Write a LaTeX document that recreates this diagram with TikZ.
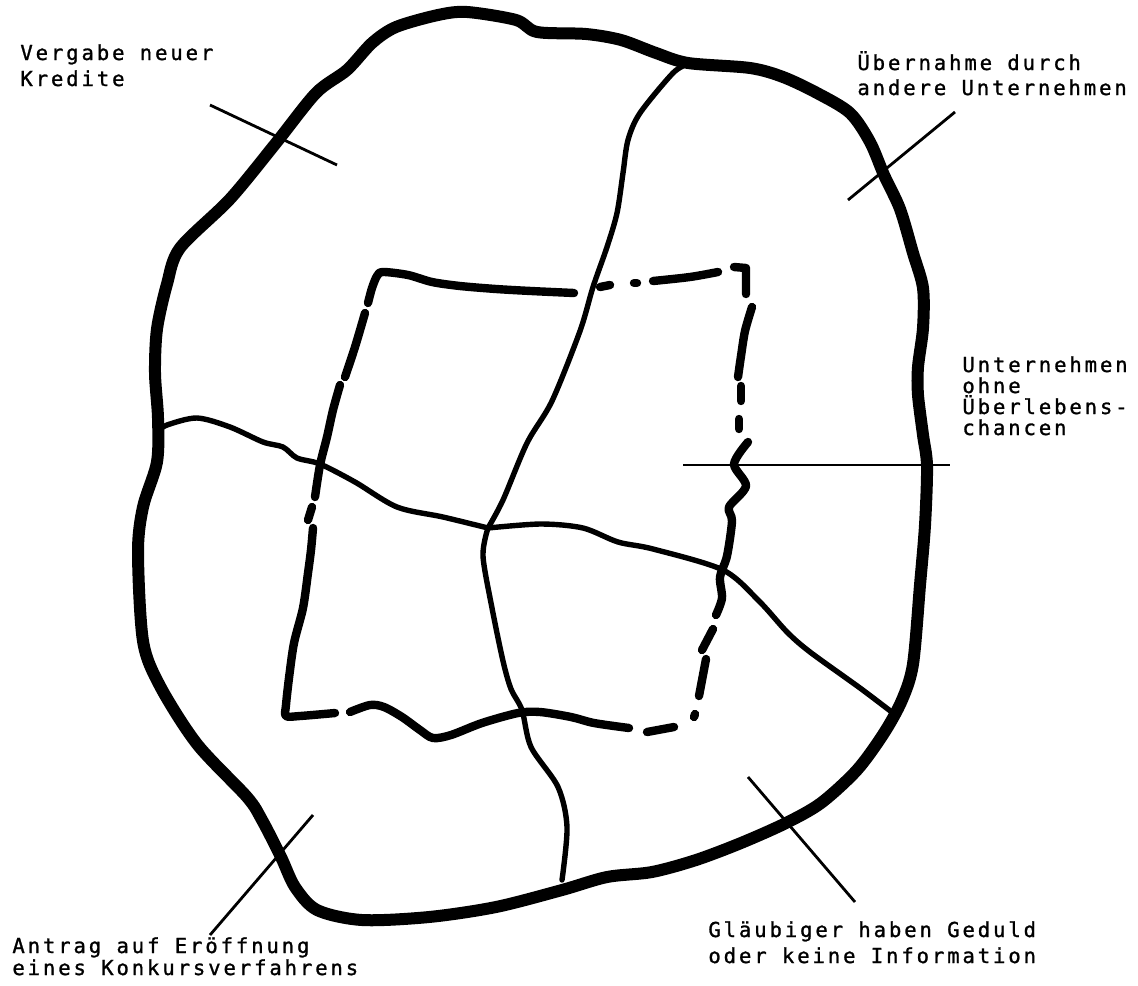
\documentclass[tikz,border=0pt]{standalone}
\usepackage{fontspec}
\newfontfamily\typew{DejaVu Sans Mono}[LetterSpace=14,FakeBold=1.2]
\newcommand\labfont{\typew\fontsize{10.3}{12}\selectfont}
\tikzset{
  outerline/.style={line width=6pt, line cap=round, line join=round},
  innerline/.style={line width=2.7pt, line cap=round, line join=round},
  rectline/.style={line width=4.2pt, line cap=round, line join=round},
  leader/.style={line width=1.4pt},
  lab/.style={anchor=base west, inner sep=0pt, font=\labfont}
}
\begin{document}
\begin{tikzpicture}[x=0.5pt,y=-0.5pt]
\fill[white] (0,0) rectangle (1138,985);
\useasboundingbox (0,0) rectangle (1138,985);

% outer boundary
\draw[outerline] plot[smooth cycle] coordinates {
 (467,12) (516,20) (537,32) (586,34) (621,40) (656,53) (688,63) (750,68)
 (783,77) (817,93) (850,113) (870,142) (884,175) (900,209) (913,253)
 (923,288) (923,328) (918,367) (918,395) (923,435) (927,466) (925,525)
 (920,585) (913,664) (902,700) (884,733) (857,770) (821,803) (786,823)
 (741,843) (696,860) (652,872) (607,877) (562,890) (496,907) (429,917)
 (362,920) (317,910) (295,887) (281,857) (262,820) (247,797) (197,744)
 (160,686) (143,641) (138,552) (143,507) (157,462) (158,418) (155,373)
 (157,329) (167,284) (180,248) (230,199) (276,143) (316,93) (347,70)
 (372,43) (396,27) (438,15)};

% junction
\coordinate (J) at (488,528);

% vertical dividing line
\draw[innerline] plot[smooth] coordinates {
 (688,64) (673,73) (640,113) (628,140) (623,173) (617,213) (607,247)
 (593,287) (580,331) (552,401) (527,443) (503,500) (488,528)};
\draw[innerline] plot[smooth] coordinates {
 (488,528) (483,556) (492,608) (503,661) (511,689) (522,710) (531,747)
 (558,787) (567,827) (562,880)};

% horizontal dividing line
\draw[innerline] plot[smooth] coordinates {
 (158,431) (167,425) (197,418) (230,427) (263,442) (283,447) (297,458)
 (320,464) (355,482) (397,507) (443,517) (488,528)};
\draw[innerline] plot[smooth] coordinates {
 (488,528) (541,524) (583,528) (618,542) (653,549) (723,570) (759,601)
 (787,632) (810,652) (860,688) (893,713)};

% dash-dotted inner rectangle
\draw[rectline] plot[smooth] coordinates {
 (368,303) (372,288) (377,276) (383,272) (408,275) (432,282) (460,286)
 (496,289) (531,291) (574,293)};
\draw[rectline] (600,287) -- (610,285);
\draw[rectline] (634,283) -- (637,283);
\draw[rectline] plot[smooth] coordinates {(653,281) (690,277) (718,272)};
\draw[rectline] (734,267) -- (746,268) -- (746,294);
\draw[rectline] plot[smooth] coordinates {(752,307) (745,331) (741,356) (738,377)};
\draw[rectline] (741,386) -- (741,401);
\draw[rectline] (739,419) -- (739,429);
\draw[rectline] plot[smooth] coordinates {
 (748,442) (734,464) (746,486) (729,507) (732,521) (727,556) (720,577)
 (722,598) (716,615)};
\draw[rectline] (713,629) -- (702,650);
\draw[rectline] (706,659) -- (699,696);
\draw[rectline] (695,714) -- (694,717);
\draw[rectline] (674,727) -- (647,732);
\draw[rectline] plot[smooth] coordinates {
 (629,728) (594,723) (571,717) (540,712) (518,713) (482,723) (451,735)
 (433,738) (420,730) (402,717) (384,707) (370,705) (350,712)};
\draw[rectline] plot[smooth] coordinates {
 (335,713) (300,716) (286,716) (286,705) (289,678) (294,643) (303,608)
 (308,573) (311,550) (313,528)};
\draw[rectline] (312,507) -- (308,520);
\draw[rectline] plot[smooth] coordinates {(340,385) (333,410) (327,437) (320,465) (315,497)};
\draw[rectline] plot[smooth] coordinates {(365,313) (355,347) (345,377)};

% leader lines
\coordinate (va) at (210,105); \coordinate (vb) at (337,165);
\coordinate (ua) at (848,200); \coordinate (ub) at (955,112);
\coordinate (oa) at (683,465); \coordinate (ob) at (950,465);
\coordinate (aa) at (313,815); \coordinate (ab) at (210,935);
\coordinate (ga) at (748,777); \coordinate (gb) at (855,902);
\draw[leader] (va) -- (vb);
\draw[leader] (ua) -- (ub);
\draw[leader] (oa) -- (ob);
\draw[leader] (aa) -- (ab);
\draw[leader] (ga) -- (gb);

% labels
\node[lab] (t1a) at (20,60) {Vergabe neuer};
\node[lab] (t1b) at (20,86) {Kredite};
\node[lab] (t2a) at (857,70) {Übernahme durch};
\node[lab] (t2b) at (857,95) {andere Unternehmen};
\node[lab] (t3a) at (962,372) {Unternehmen};
\node[lab] (t3b) at (962,393) {ohne};
\node[lab] (t3c) at (962,414) {Überlebens-};
\node[lab] (t3d) at (962,435) {chancen};
\node[lab] (t4a) at (12,953) {Antrag auf Eröffnung};
\node[lab] (t4b) at (12,975) {eines Konkursverfahrens};
\node[lab] (t5a) at (708,937) {Gläubiger haben Geduld};
\node[lab] (t5b) at (708,963) {oder keine Information};
\end{tikzpicture}
\end{document}
